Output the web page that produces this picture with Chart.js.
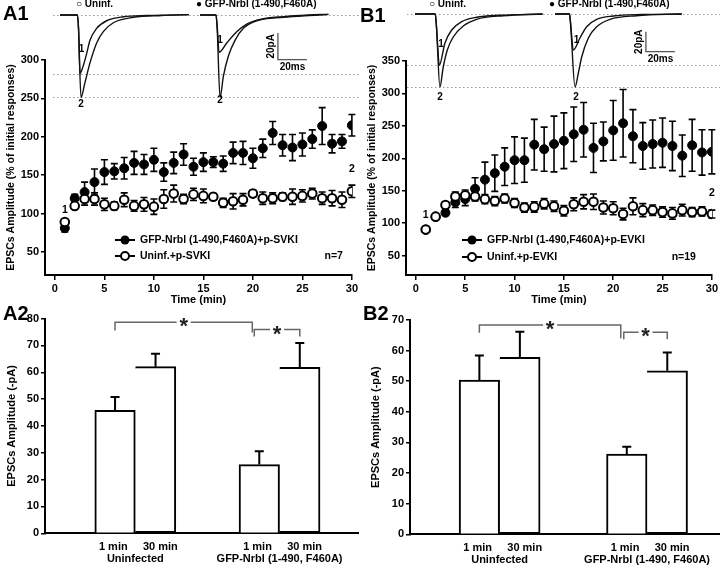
<!DOCTYPE html>
<html>
<head>
<meta charset="utf-8">
<script src="https://cdn.jsdelivr.net/npm/chart.js@4.4.0/dist/chart.umd.min.js"></script>
<style>
  html, body { margin: 0; padding: 0; background: #fff; }
  #fig { position: relative; width: 720px; height: 570px; overflow: hidden; font-family: "Liberation Sans", Arial, sans-serif; color: #000; }
  #fig canvas { position: absolute; }
  .panel { position: absolute; font-weight: bold; font-size: 20px; line-height: 20px; }
  .key { position: absolute; font-weight: bold; font-size: 10px; line-height: 12px; white-space: nowrap; }
</style>
</head>
<body>
<div id="fig">
  <canvas id="a1" width="360" height="270" style="left:0;top:40px"></canvas>
  <canvas id="b1" width="360" height="270" style="left:360px;top:40px"></canvas>
  <canvas id="a2" width="360" height="260" style="left:0;top:310px"></canvas>
  <canvas id="b2" width="360" height="260" style="left:360px;top:310px"></canvas>
  <canvas id="a1tr" width="307" height="110" style="left:53px;top:0"></canvas>
  <canvas id="b1tr" width="313" height="110" style="left:407px;top:0"></canvas>

  <div class="panel" style="left:3px;top:3px">A1</div>
  <div class="panel" style="left:360px;top:5px">B1</div>
  <div class="panel" style="left:3px;top:303px">A2</div>
  <div class="panel" style="left:363px;top:303px">B2</div>

  <div class="key" style="left:76px;top:-2px">○ Uninf.</div>
  <div class="key" style="left:196px;top:-2px">● GFP-Nrbl (1-490,F460A)</div>
  <div class="key" style="left:429px;top:-2px">○ Uninf.</div>
  <div class="key" style="left:549px;top:-2px">● GFP-Nrbl (1-490,F460A)</div>
</div>

<script>
const FONT = '"Liberation Sans", Arial, sans-serif';
Chart.defaults.font.family = FONT;
Chart.defaults.color = '#000';

// ---- time course (min) ----
const timeMin = [1, 2, 3, 4, 5, 6, 7, 8, 9, 10, 11, 12, 13, 14, 15, 16, 17, 18, 19, 20, 21, 22, 23, 24, 25, 26, 27, 28, 29, 30];
const xTicks = [0, 5, 10, 15, 20, 25, 30];
const a1YTicks = [50, 100, 150, 200, 250, 300];
const b1YTicks = [50, 100, 150, 200, 250, 300, 350];

// A1: p-SVKI
const a1Gfp = [81, 120, 128, 141, 154, 155, 159, 166, 164, 170, 154, 166, 177, 161, 167, 167, 165, 179, 179, 172, 185, 205, 189, 186, 190, 197, 214, 191, 194, 215];
const a1GfpErr = [5, 5, 13, 17, 16, 10, 14, 15, 13, 15, 12, 14, 14, 11, 12, 7, 10, 14, 15, 13, 12, 15, 14, 17, 15, 12, 24, 12, 9, 14];
const a1Uninf = [89, 110, 119, 119, 112, 110, 118, 110, 112, 109, 119, 126, 119, 125, 123, 122, 114, 116, 118, 126, 120, 120, 122, 122, 123, 126, 120, 120, 118, 129];
const a1UninfErr = [4, 4, 8, 8, 8, 5, 9, 7, 9, 10, 12, 11, 6, 8, 9, 4, 6, 10, 8, 4, 8, 7, 5, 10, 8, 7, 8, 10, 10, 8];

// B1: p-EVKI
const b1Gfp = [90, 110, 116, 132, 137, 153, 167, 177, 187, 197, 197, 221, 214, 222, 227, 237, 244, 216, 226, 243, 254, 234, 219, 222, 224, 219, 204, 220, 209, 210];
const b1GfpErr = [2, 3, 4, 8, 10, 17, 27, 28, 29, 36, 34, 39, 34, 43, 43, 42, 42, 38, 30, 46, 52, 41, 36, 37, 38, 38, 32, 40, 35, 34];
const b1Uninf = [90, 110, 128, 141, 143, 141, 137, 134, 138, 131, 124, 125, 130, 126, 119, 129, 133, 133, 124, 123, 114, 126, 120, 120, 117, 115, 120, 117, 118, 114];
const b1UninfErr = [2, 3, 4, 7, 8, 7, 7, 7, 7, 7, 7, 8, 8, 8, 8, 10, 11, 12, 10, 10, 9, 13, 10, 8, 8, 9, 9, 7, 7, 6];

// ---- example traces [ms, pA] ----
const a1UninfTr1 = [[0, 0], [12, 0], [12.8, -10], [13.8, -44], [15.5, -40], [18.4, -29], [20.7, -19], [25.3, -10], [32.2, -4.3], [43.7, -1.3], [60, -0.3], [89, 0.3]];
const a1UninfTr2 = [[0, 0], [12, 0], [12.8, -10], [14.5, -62], [17.2, -51], [20.7, -36], [25.3, -21], [29.9, -12.5], [36.8, -5.8], [50.6, -1.7], [70, -0.3], [89, 0.3]];
const a1GfpTr1 = [[0, 0], [11, 0], [11.8, -8], [13.1, -28], [18.4, -21], [25.3, -12.5], [32.2, -6.8], [41.4, -3.3], [57.5, -1.2], [75, 0], [88.5, 0.5]];
const a1GfpTr2 = [[0, 0], [11, 0], [11.8, -10], [13.8, -62], [16.1, -46], [19.5, -31], [24.1, -19], [29.9, -10], [39.1, -4.3], [57.5, -1.7], [75, -0.3], [88.5, 0.5]];
const b1UninfTr1 = [[0, 0], [14, 0], [14.8, -12], [16.8, -51], [20.7, -29], [25.3, -16], [32.2, -7.7], [42.5, -3.3], [58.6, -1.3], [88, 0]];
const b1UninfTr2 = [[0, 0], [14, 0], [14.8, -12], [17.2, -73], [19.5, -53], [22.3, -36], [26.4, -23], [33.3, -12], [42.5, -5.3], [60.9, -1.7], [88, 0]];
const b1GfpTr1 = [[0, 0], [10, 0], [10.8, -10], [12.6, -36], [17.2, -24], [21.8, -12.7], [28.7, -5.3], [40.2, -2], [60, -0.5], [87.4, 0]];
const b1GfpTr2 = [[0, 0], [10, 0], [10.8, -12], [13.8, -73], [16.1, -59], [18.4, -43], [23, -24], [28.7, -12.7], [37.9, -5.3], [56.3, -1.7], [87.4, 0]];

// ---- bar summaries (-pA) ----
const groups = ['Uninfected', 'GFP-Nrbl (1-490, F460A)'];
const a2Min1 = [45.8, 25.6];
const a2Min1Err = [5.0, 5.0];
const a2Min30 = [62.1, 61.8];
const a2Min30Err = [4.8, 9.1];
const b2Min1 = [50.4, 26.2];
const b2Min1Err = [8.0, 2.4];
const b2Min30 = [57.8, 53.4];
const b2Min30Err = [8.4, 6.0];

const bold = (size) => ({ family: FONT, weight: 'bold', size });

// error bars drawn under the markers
const errorBarPlugin = {
	id: 'errBars',
	beforeDatasetsDraw(chart) {
		const { ctx, scales: { y } } = chart;
		chart.data.datasets.forEach((ds, di) => {
			const meta = chart.getDatasetMeta(di);
			ctx.save();
			ctx.strokeStyle = '#000';
			ctx.lineWidth = 1.6;
			meta.data.forEach((pt, i) => {
				const v = ds.data[i].y, e = ds.errors[i];
				const yt = y.getPixelForValue(v + e), yb = y.getPixelForValue(v - e);
				ctx.beginPath();
				ctx.moveTo(pt.x, yt); ctx.lineTo(pt.x, yb);
				ctx.moveTo(pt.x - 3.5, yt); ctx.lineTo(pt.x + 3.5, yt);
				ctx.moveTo(pt.x - 3.5, yb); ctx.lineTo(pt.x + 3.5, yb);
				ctx.stroke();
			});
			ctx.restore();
		});
	},
};

// in-plot legend, n and the 1/2 markers
const tcNotes = {
	id: 'tcNotes',
	afterDraw(chart, args, o) {
		const { ctx, chartArea: ca, scales: { x, y } } = chart;
		ctx.save();
		ctx.font = `bold 10.5px ${FONT}`;
		ctx.fillStyle = '#000';
		ctx.textBaseline = 'middle';
		o.rows.forEach((r, i) => {
			const cy = ca.bottom - o.rowY[i];
			const cx = ca.left + o.symX;
			ctx.strokeStyle = '#000';
			ctx.lineWidth = 2;
			ctx.beginPath(); ctx.moveTo(cx - 10, cy); ctx.lineTo(cx + 10, cy); ctx.stroke();
			ctx.beginPath(); ctx.arc(cx, cy, r.filled ? 4.5 : 4, 0, Math.PI * 2);
			ctx.fillStyle = r.filled ? '#000' : '#fff';
			ctx.fill();
			if (!r.filled) ctx.stroke();
			ctx.fillStyle = '#000';
			ctx.textAlign = 'left';
			ctx.fillText(r.text, cx + 15, cy);
		});
		ctx.textAlign = 'right';
		ctx.fillText(o.n, ca.right - o.nRight, ca.bottom - o.rowY[1]);
		ctx.textAlign = 'center';
		o.marks.forEach((m) => ctx.fillText(m.text, x.getPixelForValue(m.x), y.getPixelForValue(m.y)));
		ctx.restore();
	},
};

function timeCourse(id, c) {
	return new Chart(document.getElementById(id), {
		type: 'line',
		data: {
			// dataset 0 is painted last, so the open (uninfected) markers sit on top
			datasets: [
				{
					data: timeMin.map((t, i) => ({ x: t, y: c.uninf[i] })),
					errors: c.uninfErr,
					showLine: false,
					pointRadius: 4.3,
					pointBackgroundColor: '#fff',
					pointBorderColor: '#000',
					pointBorderWidth: 2,
				},
				{
					data: timeMin.map((t, i) => ({ x: t, y: c.gfp[i] })),
					errors: c.gfpErr,
					showLine: false,
					pointRadius: 4.5,
					pointBackgroundColor: '#000',
					pointBorderColor: '#000',
					pointBorderWidth: 1,
				},
			],
		},
		options: {
			responsive: false,
			animation: false,
			events: [],
			layout: { padding: { top: c.padTop, right: c.padRight, left: 0, bottom: 0 } },
			plugins: {
				legend: { display: false },
				tooltip: { enabled: false },
				tcNotes: c.notes,
			},
			scales: {
				x: {
					type: 'linear',
					min: -1,
					max: 30,
					afterBuildTicks: (s) => { s.ticks = xTicks.map((v) => ({ value: v })); },
					afterFit: (s) => { s.height = 35; },
					grid: { drawOnChartArea: false, color: '#000', lineWidth: 1.5, tickLength: 5 },
					border: { color: '#000', width: 2 },
					ticks: { color: '#000', font: bold(11), padding: 2, maxRotation: 0 },
					title: { display: true, text: 'Time (min)', color: '#000', font: bold(11), padding: { top: 0, bottom: 3 } },
				},
				y: {
					min: 20,
					max: c.yMax,
					afterBuildTicks: (s) => { s.ticks = c.yTicks.map((v) => ({ value: v })); },
					afterFit: (s) => { s.width = c.yWidth; },
					grid: { drawOnChartArea: false, color: '#000', lineWidth: 1.5, tickLength: 4 },
					border: { color: '#000', width: 2 },
					ticks: { color: '#000', font: bold(11), padding: 2 },
					title: { display: true, text: 'EPSCs Amplitude (% of initial responses)', color: '#000', font: bold(10.5), padding: { top: c.titlePad, bottom: 0 } },
				},
			},
		},
		plugins: [errorBarPlugin, tcNotes],
	});
}

timeCourse('a1', {
	gfp: a1Gfp, gfpErr: a1GfpErr, uninf: a1Uninf, uninfErr: a1UninfErr,
	yMax: 300, yTicks: a1YTicks, yWidth: 45, padTop: 20, padRight: 8, titlePad: 5,
	notes: {
		rows: [{ text: 'GFP-Nrbl (1-490,F460A)+p-SVKI', filled: true }, { text: 'Uninf.+p-SVKI', filled: false }],
		rowY: [35, 19], symX: 80, n: 'n=7', nRight: 9,
		marks: [{ text: '1', x: 1, y: 104 }, { text: '2', x: 30, y: 158 }],
	},
});

timeCourse('b1', {
	gfp: b1Gfp, gfpErr: b1GfpErr, uninf: b1Uninf, uninfErr: b1UninfErr,
	yMax: 350, yTicks: b1YTicks, yWidth: 46, padTop: 21, padRight: 7, titlePad: 6,
	notes: {
		rows: [{ text: 'GFP-Nrbl (1-490,F460A)+p-EVKI', filled: true }, { text: 'Uninf.+p-EVKI', filled: false }],
		rowY: [35, 18], symX: 66, n: 'n=19', nRight: 16,
		marks: [{ text: '1', x: 1, y: 112 }, { text: '2', x: 30, y: 146 }],
	},
});

// ---- example traces ----
const traceGap = 96.6; // ms between the two sweep groups

const traceDeco = {
	id: 'traceDeco',
	beforeDatasetsDraw(chart, args, o) {
		const { ctx, chartArea: ca, scales: { y } } = chart;
		ctx.save();
		ctx.strokeStyle = '#9a9a9a';
		ctx.lineWidth = 1;
		ctx.setLineDash([1.5, 2.5]);
		o.levels.forEach((lv) => {
			const py = Math.round(y.getPixelForValue(lv)) + 0.5;
			ctx.beginPath(); ctx.moveTo(ca.left, py); ctx.lineTo(ca.right, py); ctx.stroke();
		});
		ctx.restore();
	},
	afterDatasetsDraw(chart, args, o) {
		const { ctx, scales: { x, y } } = chart;
		ctx.save();
		// 20 pA / 20 ms scale bar
		const bx = x.getPixelForValue(o.bar.t);
		const bx2 = x.getPixelForValue(o.bar.t + 20);
		const by1 = y.getPixelForValue(o.bar.top);
		const by2 = y.getPixelForValue(o.bar.top - 20);
		ctx.strokeStyle = '#555';
		ctx.lineWidth = 1.3;
		ctx.beginPath(); ctx.moveTo(bx, by1); ctx.lineTo(bx, by2); ctx.lineTo(bx2, by2); ctx.stroke();
		ctx.fillStyle = '#000';
		ctx.font = `bold 10px ${FONT}`;
		ctx.textAlign = 'center';
		ctx.textBaseline = 'middle';
		ctx.fillText('20ms', (bx + bx2) / 2, by2 + 8);
		ctx.save();
		ctx.translate(bx - 7, (by1 + by2) / 2);
		ctx.rotate(-Math.PI / 2);
		ctx.fillText('20pA', 0, 0);
		ctx.restore();
		o.marks.forEach((m) => ctx.fillText(m.text, x.getPixelForValue(m.t), y.getPixelForValue(m.i)));
		ctx.restore();
	},
};

function traceOverlay(id, c) {
	const sweeps = [
		[c.uninf1, 0], [c.uninf2, 0], [c.gfp1, traceGap], [c.gfp2, traceGap],
	];
	const peak = (tr) => Math.min(...tr.map((p) => p[1]));
	return new Chart(document.getElementById(id), {
		type: 'line',
		data: {
			datasets: sweeps.map(([tr, shift]) => ({
				data: tr.map((p) => ({ x: p[0] + shift, y: p[1] })),
				borderColor: '#111',
				borderWidth: 1.4,
				pointRadius: 0,
				cubicInterpolationMode: 'monotone',
			})),
		},
		options: {
			responsive: false,
			animation: false,
			events: [],
			layout: { padding: 0 },
			plugins: {
				legend: { display: false },
				tooltip: { enabled: false },
				traceDeco: {
					levels: [0, peak(c.uninf1), peak(c.uninf2)],
					bar: c.bar,
					marks: c.marks,
				},
			},
			scales: {
				x: { type: 'linear', display: false, min: c.xMin, max: c.xMax },
				y: { display: false, min: c.yMin, max: c.yMax },
			},
		},
		plugins: [traceDeco],
	});
}

traceOverlay('a1tr', {
	uninf1: a1UninfTr1, uninf2: a1UninfTr2, gfp1: a1GfpTr1, gfp2: a1GfpTr2,
	xMin: -4.8, xMax: 206.9, yMin: -71.4, yMax: 11.3,
	bar: { t: 150.3, top: -13.5 },
	marks: [
		{ text: '1', t: 14.8, i: -26 }, { text: '2', t: 14.5, i: -67 },
		{ text: '1', t: traceGap + 13.8, i: -19 }, { text: '2', t: traceGap + 13.8, i: -64 },
	],
});

traceOverlay('b1tr', {
	uninf1: b1UninfTr1, uninf2: b1UninfTr2, gfp1: b1GfpTr1, gfp2: b1GfpTr2,
	xMin: -5.5, xMax: 210.4, yMin: -96, yMax: 14,
	bar: { t: 159.3, top: -17.7 },
	marks: [
		{ text: '1', t: 17.9, i: -30 }, { text: '2', t: 17.3, i: -83 },
		{ text: '1', t: traceGap + 14.9, i: -26 }, { text: '2', t: traceGap + 14.5, i: -83 },
	],
});

// ---- bar charts ----
const barErrors = {
	id: 'barErr',
	afterDatasetsDraw(chart) {
		const { ctx, scales: { y } } = chart;
		ctx.save();
		ctx.strokeStyle = '#000';
		ctx.lineWidth = 2;
		chart.data.datasets.forEach((ds, di) => {
			chart.getDatasetMeta(di).data.forEach((bar, i) => {
				const top = y.getPixelForValue(ds.data[i].y + ds.errors[i]);
				ctx.beginPath();
				ctx.moveTo(bar.x, bar.y); ctx.lineTo(bar.x, top);
				ctx.moveTo(bar.x - 4.5, top); ctx.lineTo(bar.x + 4.5, top);
				ctx.stroke();
			});
		});
		ctx.restore();
	},
};

const brackets = {
	id: 'brackets',
	afterDatasetsDraw(chart, args, o) {
		const { ctx, scales: { y } } = chart;
		o.items.forEach((b) => {
			const x1 = chart.getDatasetMeta(b.from[0]).data[b.from[1]].x + b.dx[0];
			const x2 = chart.getDatasetMeta(b.to[0]).data[b.to[1]].x + b.dx[1];
			const yy = y.getPixelForValue(b.level);
			ctx.save();
			ctx.strokeStyle = '#666';
			ctx.lineWidth = 1.5;
			ctx.beginPath();
			ctx.moveTo(x1, y.getPixelForValue(b.level - b.drop[0]));
			ctx.lineTo(x1, yy);
			ctx.lineTo(x2, yy);
			ctx.lineTo(x2, y.getPixelForValue(b.level - b.drop[1]));
			ctx.stroke();
			const xm = (x1 + x2) / 2;
			ctx.fillStyle = '#fff';
			ctx.fillRect(xm - 7, yy - 3, 14, 6);
			ctx.fillStyle = '#222';
			ctx.font = `bold 22px ${FONT}`;
			ctx.textAlign = 'center';
			ctx.textBaseline = 'middle';
			ctx.fillText('*', xm, yy + 5);
			ctx.restore();
		});
	},
};

function barChart(id, c) {
	const mk = (vals, errs, label, skip) => ({
		label,
		data: groups.map((g, i) => ({ x: i + 1, y: vals[i] })),
		errors: errs,
		backgroundColor: '#fff',
		borderColor: '#000',
		borderWidth: 2,
		borderSkipped: skip,
		barThickness: c.barW,
	});
	return new Chart(document.getElementById(id), {
		type: 'bar',
		data: {
			datasets: [mk(c.min1, c.min1Err, '1 min', 'bottom'), mk(c.min30, c.min30Err, '30 min', 'left')],
		},
		options: {
			responsive: false,
			animation: false,
			events: [],
			layout: { padding: { top: c.padTop, right: c.padRight, left: 0, bottom: 0 } },
			plugins: {
				legend: { display: false },
				tooltip: { enabled: false },
				brackets: { items: c.brackets },
			},
			scales: {
				x: {
					type: 'linear',
					offset: false,
					min: c.xMin,
					max: c.xMax,
					afterBuildTicks: (s) => { s.ticks = groups.map((g, i) => ({ value: i + 1 })); },
					afterFit: (s) => { s.height = c.xH; },
					grid: { display: false, offset: false },
					border: { color: '#000', width: 2 },
					ticks: {
						color: '#000',
						font: { ...bold(11), lineHeight: 1.05 },
						padding: 0,
						maxRotation: 0,
						callback: (v, i) => ['  1 min     30 min', groups[i]],
					},
				},
				y: {
					min: 0,
					max: c.yMax,
					ticks: { stepSize: 10, color: '#000', font: bold(11), padding: 2 },
					afterFit: (s) => { s.width = c.yWidth; },
					grid: { drawOnChartArea: false, color: '#000', lineWidth: 1.5, tickLength: 4 },
					border: { color: '#000', width: 2 },
					title: { display: true, text: 'EPSCs Amplitude (-pA)', color: '#000', font: bold(11), padding: { top: c.titlePad, bottom: 0 } },
				},
			},
		},
		plugins: [barErrors, brackets],
	});
}

barChart('a2', {
	min1: a2Min1, min1Err: a2Min1Err, min30: a2Min30, min30Err: a2Min30Err,
	yMax: 80, xMin: 0.374, xMax: 2.544, barW: 40.5, yWidth: 45, xH: 36.7, padTop: 8.3, padRight: 2, titlePad: 5,
	brackets: [
		{ from: [0, 0], to: [0, 1], dx: [0, -7], level: 78.6, drop: [3, 3.8] },
		{ from: [0, 1], to: [1, 1], dx: [-5, 0], level: 75.9, drop: [2.6, 2.6] },
	],
});

barChart('b2', {
	min1: b2Min1, min1Err: b2Min1Err, min30: b2Min30, min30Err: b2Min30Err,
	yMax: 70, xMin: 0.392, xMax: 2.495, barW: 40.5, yWidth: 50, xH: 35.7, padTop: 10, padRight: 0, titlePad: 9,
	brackets: [
		{ from: [0, 0], to: [0, 1], dx: [0, -6], level: 68.4, drop: [2.6, 4.4] },
		{ from: [0, 1], to: [1, 1], dx: [-3, 0], level: 66.0, drop: [2.3, 2.3] },
	],
});
</script>
</body>
</html>
